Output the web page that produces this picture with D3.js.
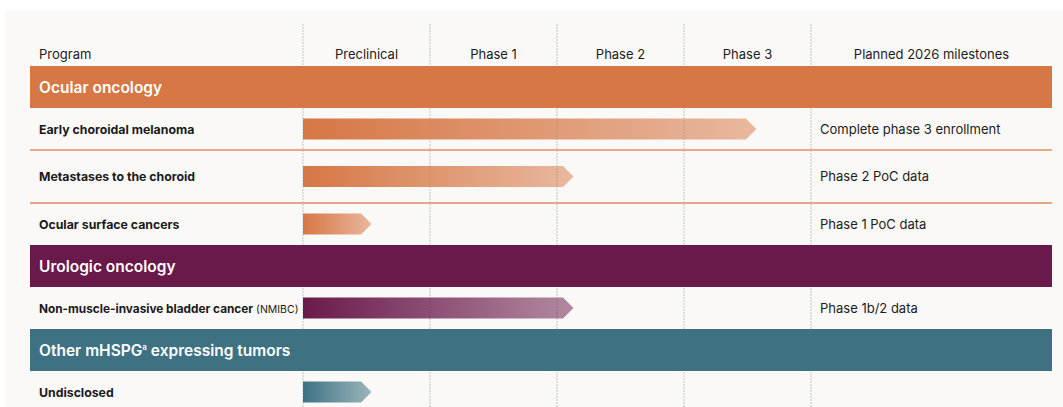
<!DOCTYPE html>
<html>
<head>
<meta charset="utf-8">
<script src="https://cdn.jsdelivr.net/npm/d3@7"></script>
<style>
  body { margin: 0; background: #fff; }
  svg { display: block; font-family: Inter, "Noto Sans", sans-serif; }
</style>
</head>
<body>
<svg id="chart"></svg>
<script>
// Pipeline data
const phases = ["Preclinical", "Phase 1", "Phase 2", "Phase 3"];
const groups = ["Ocular oncology", "Urologic oncology", "Other mHSPG"];
const groupColors = ["#d67745", "#6a1a4a", "#3e7283"];
const programs = ["Early choroidal melanoma", "Metastases to the choroid", "Ocular surface cancers",
  "Non-muscle-invasive bladder cancer", "Undisclosed"];
const programNotes = ["", "", "", "(NMIBC)", ""];
const programGroup = [0, 0, 0, 1, 2];
// arrow tip, in phase units from the start of preclinical
const progress = [3.57, 2.13, 0.54, 2.13, 0.54];
const milestones = ["Complete phase 3 enrollment", "Phase 2 PoC data", "Phase 1 PoC data",
  "Phase 1b/2 data", ""];

const width = 1063, height = 407;
const svg = d3.select("#chart").attr("width", width).attr("height", height);

// Layout
const left = 30, right = 1052;
const x = d3.scaleLinear().domain([0, 4]).range([303, 811]);
const rowsOrder = ["g0", "p0", "p1", "p2", "g1", "p3", "g2", "p4"];
const rowHeights = [42, 42, 53, 42, 42, 42, 42, 42];
const rowTop = {};
let yy = 66;
rowsOrder.forEach((r, i) => { rowTop[r] = [yy, rowHeights[i]]; yy += rowHeights[i]; });

// background panel
svg.append("rect").attr("x", 5).attr("y", 10).attr("width", width - 5).attr("height", height - 10)
  .attr("fill", "#faf9f7");

// gradients
const defs = svg.append("defs");
groupColors.forEach((c, i) => {
  const g = defs.append("linearGradient").attr("id", "grad" + i)
    .attr("x1", "0%").attr("x2", "100%").attr("y1", "0%").attr("y2", "0%");
  g.append("stop").attr("offset", "0%").attr("stop-color", c).attr("stop-opacity", 1);
  g.append("stop").attr("offset", "100%").attr("stop-color", c).attr("stop-opacity", 0.5);
});

// dashed column dividers
svg.append("g").selectAll("line")
  .data(d3.range(5))
  .join("line")
  .attr("x1", d => x(d)).attr("x2", d => x(d))
  .attr("y1", 24).attr("y2", height)
  .attr("stroke", "#b9c5cc").attr("stroke-width", 1).attr("stroke-dasharray", "2,1");

// header
const header = svg.append("g").attr("font-size", 13).attr("fill", "#1c1c1c");
header.append("text").attr("x", 39).attr("y", 58.5).text("Program");
header.selectAll(".ph").data(phases).join("text")
  .attr("x", (d, i) => x(i + 0.5)).attr("y", 58.5).attr("text-anchor", "middle").text(d => d);
header.append("text").attr("x", (x(4) + right) / 2).attr("y", 58.5).attr("text-anchor", "middle")
  .text("Planned 2026 milestones");

// separators inside ocular group
svg.append("g").selectAll("line")
  .data(["p0", "p1"])
  .join("line")
  .attr("x1", left).attr("x2", right)
  .attr("y1", d => rowTop[d][0] + rowTop[d][1]).attr("y2", d => rowTop[d][0] + rowTop[d][1])
  .attr("stroke", "#e8a884").attr("stroke-width", 2);

// group bands
groups.forEach((name, i) => {
  const [top, h] = rowTop["g" + i];
  svg.append("rect").attr("x", left).attr("y", top).attr("width", right - left).attr("height", h)
    .attr("fill", groupColors[i]);
  const t = svg.append("text").attr("x", 39).attr("y", top + h / 2 + 5.5)
    .attr("fill", "#fff").attr("font-size", 15.5).attr("font-weight", 600);
  t.append("tspan").text(name);
  if (i === 2) {
    t.append("tspan").attr("font-size", 8).attr("dy", -6).text("a");
    t.append("tspan").attr("dy", 6).text(" expressing tumors");
  }
});

// program rows
const arrowH = 21, tip = 10.5;
programs.forEach((name, i) => {
  const [top, h] = rowTop["p" + i];
  const cy = top + h / 2;
  const t = svg.append("text").attr("x", 39).attr("y", cy + 4.5).attr("font-size", 12)
    .attr("fill", "#1a1a1a");
  t.append("tspan").attr("font-weight", 700).attr("font-size", i === 3 ? 11.8 : 12.3).text(name);
  if (programNotes[i]) t.append("tspan").attr("font-size", 10.5).text(" " + programNotes[i]);

  const x0 = x(0), x1 = x(progress[i]);
  const pts = [[x0, cy - arrowH / 2], [x1 - tip, cy - arrowH / 2], [x1, cy],
    [x1 - tip, cy + arrowH / 2], [x0, cy + arrowH / 2]];
  svg.append("path").attr("d", d3.line()(pts) + "Z")
    .attr("fill", "url(#grad" + programGroup[i] + ")");

  svg.append("text").attr("x", 820).attr("y", cy + 4.5).attr("font-size", 13)
    .attr("fill", "#1c1c1c").text(milestones[i]);
});
</script>
</body>
</html>
